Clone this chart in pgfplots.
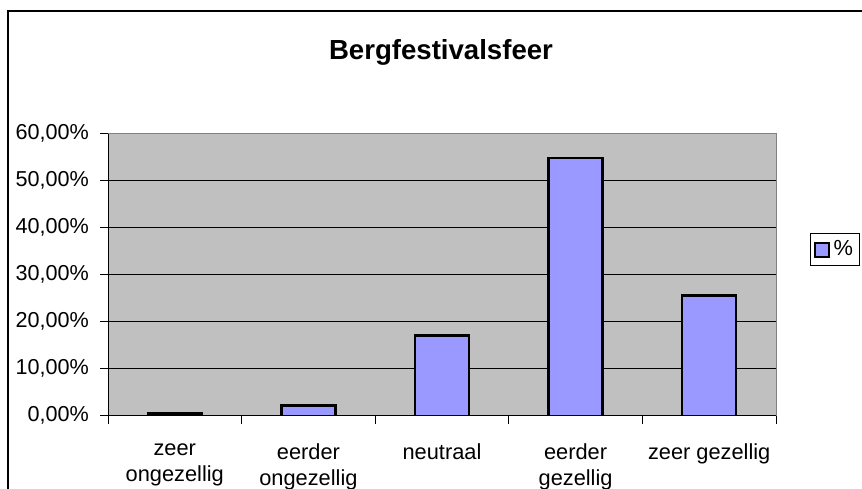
\documentclass[border=0pt]{standalone}
\usepackage{pgfplots}
\pgfplotsset{compat=1.18}
\usepackage{fontspec}
\setmainfont{Liberation Sans}
\definecolor{plotbg}{RGB}{192,192,192}
\definecolor{barfill}{RGB}{153,153,255}
\definecolor{frameg}{RGB}{128,128,128}
\begin{document}
\begin{tikzpicture}
\useasboundingbox (0,0) rectangle (431pt,244pt);
\clip (0,0) rectangle (431pt,244pt);
% outer chart frame
\draw[line width=0.8pt] (4pt,-10pt) -- (4pt,238.5pt) -- (440pt,238.5pt);
% title
\node[anchor=base, font=\fontsize{13.8}{16}\selectfont\bfseries] at (220.5pt,214pt) {Bergfestivalsfeer};
\begin{axis}[
  at={(54pt,36.15pt)}, anchor=south west,
  width=334pt, height=141pt, scale only axis,
  xmin=-0.5, xmax=4.5, ymin=0, ymax=0.6,
  axis background/.style={fill=plotbg},
  axis line style={draw=frameg, line width=0.5pt},
  ybar, bar width=27pt, bar shift=0pt,
  xtick={-0.5,0.5,1.5,2.5,3.5,4.5},
  x tick label as interval,
  xticklabels={{zeer\\ongezellig},{eerder\\ongezellig},{neutraal},{eerder\\gezellig},{zeer gezellig}},
  xticklabel style={align=center, font=\fontsize{10.9}{13}\selectfont, yshift=-6.5pt},
  ytick={0,0.1,0.2,0.3,0.4,0.5,0.6},
  yticklabels={{0,00\%},{10,00\%},{20,00\%},{30,00\%},{40,00\%},{50,00\%},{60,00\%}},
  yticklabel style={font=\fontsize{10.8}{12.5}\selectfont, xshift=-2pt},
  tick pos=left, tick align=outside,
  major tick length=4pt,
  tick style={black, line width=0.5pt},
  ymajorgrids, major grid style={black, line width=0.5pt},
  legend style={at={(1.051,0.589)}, anchor=west, draw=black, line width=0.5pt,
    font=\fontsize{10.9}{12.5}\selectfont, inner sep=1.5pt},
  legend cell align=left,
  legend image code/.code={\draw[#1, line width=1pt] (0pt,-3.5pt) rectangle (7pt,3.5pt);},
]
\addplot[fill=barfill, draw=black, line width=1.2pt] coordinates {
  (0,0.005) (1,0.022) (2,0.171) (3,0.548) (4,0.256)
};
\addlegendentry{\%\hspace{4pt}}
\draw[black, line width=0.6pt] (rel axis cs:0,1) -- (rel axis cs:0,0) -- (rel axis cs:1,0);
\end{axis}
\end{tikzpicture}
\end{document}
